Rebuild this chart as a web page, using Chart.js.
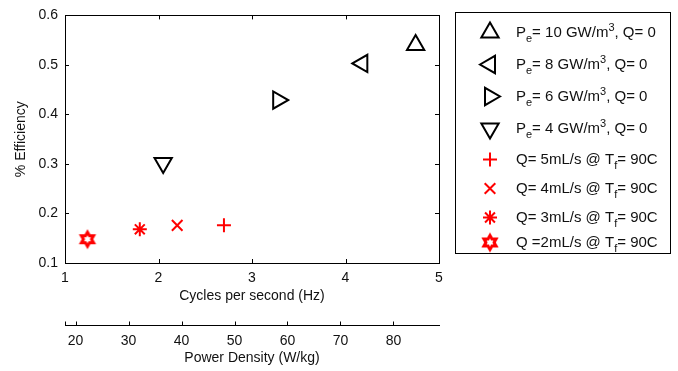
<!DOCTYPE html>
<html>
<head>
<meta charset="utf-8">
<script src="https://cdn.jsdelivr.net/npm/chart.js@4/dist/chart.umd.min.js"></script>
<style>
  html, body { margin: 0; padding: 0; background: #fff; }
  #wrap { width: 678px; height: 371px; }
</style>
</head>
<body>
<div id="wrap"><canvas id="chart" width="678" height="371"></canvas></div>
<script>
// series labels: _x = subscript char, ^x = superscript char
const seriesLabels = [
    'P_e= 10 GW/m^3, Q= 0',
    'P_e= 8 GW/m^3, Q= 0',
    'P_e= 6 GW/m^3, Q= 0',
    'P_e= 4 GW/m^3, Q= 0',
    'Q= 5mL/s @ T_f= 90C',
    'Q= 4mL/s @ T_f= 90C',
    'Q= 3mL/s @ T_f= 90C',
    'Q =2mL/s @ T_f= 90C'
];
// cycles per second (Hz)
const cycles = [4.75, 4.18, 3.28, 2.05, 2.70, 2.20, 1.80, 1.24];
// % efficiency
const efficiency = [0.540, 0.503, 0.429, 0.302, 0.176, 0.176, 0.168, 0.148];
// power density axis range (W/kg)
const powerMin = 18;
const powerMax = 88.6;

const FONT = "'Liberation Sans', Arial, Helvetica, sans-serif";
const TEXT = '#111';

// make a hollow six pointed star for the last series
function makeHexagram(R, color, lw) {
    const size = Math.ceil(2 * R + 2 * lw + 2);
    const c = document.createElement('canvas');
    c.width = size;
    c.height = size;
    const g = c.getContext('2d');
    g.beginPath();
    for (let i = 0; i < 12; i++) {
        const a = -Math.PI / 2 + i * Math.PI / 6;
        const r = i % 2 === 0 ? R : R / Math.sqrt(3);
        const px = size / 2 + r * Math.cos(a);
        const py = size / 2 + r * Math.sin(a);
        if (i === 0) g.moveTo(px, py); else g.lineTo(px, py);
    }
    g.closePath();
    g.strokeStyle = color;
    g.lineWidth = lw;
    g.stroke();
    return c;
}

const hexagram = makeHexagram(7, '#ff0000', 3);

const markers = [
    { style: 'triangle', rotation: 0,   radius: 10, color: '#000' },
    { style: 'triangle', rotation: 270, radius: 10, color: '#000' },
    { style: 'triangle', rotation: 90,  radius: 10, color: '#000' },
    { style: 'triangle', rotation: 180, radius: 10, color: '#000' },
    { style: 'cross',    rotation: 0,   radius: 7,  color: '#ff0000' },
    { style: 'crossRot', rotation: 0,   radius: 7.5, color: '#ff0000' },
    { style: 'star',     rotation: 0,   radius: 7,  color: '#ff0000' },
    { style: hexagram,   rotation: 0,   radius: 9,  color: '#ff0000' }
];

const datasets = seriesLabels.map((label, i) => ({
    label: label,
    data: [{ x: cycles[i], y: efficiency[i] }],
    pointStyle: markers[i].style,
    rotation: markers[i].rotation,
    pointRadius: markers[i].radius,
    borderColor: markers[i].color,
    backgroundColor: 'rgba(0,0,0,0)',
    borderWidth: 2,
    showLine: false
}));

// draws the box round the plot and the inward tick marks
const framePlugin = {
    id: 'frame',
    afterDraw(chart) {
        const ctx = chart.ctx;
        const a = chart.chartArea;
        const xs = chart.scales.x, ys = chart.scales.y, x2 = chart.scales.x2;
        const t = 4;
        ctx.save();
        ctx.strokeStyle = '#000';
        ctx.lineWidth = 1;
        ctx.strokeRect(Math.round(a.left) + 0.5, Math.round(a.top) + 0.5,
            Math.round(a.right - a.left), Math.round(a.bottom - a.top));
        ctx.beginPath();
        xs.ticks.forEach(tk => {
            const px = Math.round(xs.getPixelForValue(tk.value)) + 0.5;
            ctx.moveTo(px, a.bottom); ctx.lineTo(px, a.bottom - t);
            ctx.moveTo(px, a.top); ctx.lineTo(px, a.top + t);
        });
        ys.ticks.forEach(tk => {
            const py = Math.round(ys.getPixelForValue(tk.value)) + 0.5;
            ctx.moveTo(a.left, py); ctx.lineTo(a.left + t, py);
            ctx.moveTo(a.right, py); ctx.lineTo(a.right - t, py);
        });
        // second axis ticks point up from its line
        const top2 = Math.round(x2.top) + 0.5;
        x2.ticks.forEach(tk => {
            const px = Math.round(x2.getPixelForValue(tk.value)) + 0.5;
            ctx.moveTo(px, top2); ctx.lineTo(px, top2 - t);
        });
        ctx.moveTo(Math.round(x2.left) + 0.5, top2);
        ctx.lineTo(Math.round(x2.left) + 0.5, top2 - t);
        ctx.stroke();
        ctx.restore();
    }
};

function drawRich(ctx, str, x, y, size) {
    const parts = str.split(/([_^].)/);
    parts.forEach(p => {
        if (!p) return;
        if (p[0] === '_' || p[0] === '^') {
            ctx.font = Math.round(size * 0.7) + 'px ' + FONT;
            const dy = p[0] === '_' ? 5 : -6;
            ctx.fillText(p[1], x, y + dy);
            x += ctx.measureText(p[1]).width;
        } else {
            ctx.font = size + 'px ' + FONT;
            ctx.fillText(p, x, y);
            x += ctx.measureText(p).width;
        }
    });
}

// legend box on the right, drawn by hand for the sub/superscripts
const legendPlugin = {
    id: 'richLegend',
    afterDraw(chart) {
        const ctx = chart.ctx;
        const box = { left: 455.5, top: 12.5, width: 215, height: 241 };
        const baselines = [37, 69, 101, 133, 164, 193, 222, 247];
        ctx.save();
        ctx.strokeStyle = '#000';
        ctx.lineWidth = 1;
        ctx.strokeRect(box.left, box.top, box.width, box.height);
        chart.data.datasets.forEach((ds, i) => {
            const my = baselines[i] - 4.5;
            ctx.save();
            ctx.strokeStyle = ds.borderColor;
            ctx.fillStyle = 'rgba(0,0,0,0)';
            ctx.lineWidth = ds.borderWidth;
            Chart.helpers.drawPoint(ctx, {
                pointStyle: ds.pointStyle,
                rotation: ds.rotation,
                radius: ds.pointRadius,
                borderWidth: ds.borderWidth
            }, 490, my);
            ctx.restore();
            ctx.fillStyle = TEXT;
            ctx.textBaseline = 'alphabetic';
            ctx.textAlign = 'left';
            drawRich(ctx, ds.label, 516, baselines[i], 15);
        });
        ctx.restore();
    }
};

new Chart(document.getElementById('chart'), {
    type: 'scatter',
    data: { datasets: datasets },
    options: {
        responsive: false,
        animation: false,
        events: [],
        layout: { padding: { top: 14, right: 239, bottom: 0, left: 0 } },
        plugins: {
            legend: { display: false },
            tooltip: { enabled: false }
        },
        scales: {
            x: {
                type: 'linear',
                position: 'bottom',
                weight: 0,
                min: 1,
                max: 5,
                grid: { display: false, drawTicks: false },
                border: { display: true, color: '#000', width: 1 },
                ticks: { stepSize: 1, padding: 7, color: TEXT, font: { family: FONT, size: 14 } },
                title: {
                    display: true,
                    text: 'Cycles per second (Hz)',
                    color: TEXT,
                    font: { family: FONT, size: 14 },
                    padding: { top: 0, bottom: 20 }
                },
                afterFit(scale) { scale.height = 62; }
            },
            x2: {
                type: 'linear',
                position: 'bottom',
                weight: 1,
                min: powerMin,
                max: powerMax,
                grid: { display: false, drawTicks: false },
                border: { display: true, color: '#000', width: 1 },
                ticks: { stepSize: 10, includeBounds: false, padding: 8, color: TEXT, font: { family: FONT, size: 14 } },
                title: {
                    display: true,
                    text: 'Power Density (W/kg)',
                    color: TEXT,
                    font: { family: FONT, size: 14 },
                    padding: { top: 0, bottom: 4 }
                },
                afterFit(scale) { scale.height = 46; }
            },
            y: {
                type: 'linear',
                min: 0.1,
                max: 0.6,
                grid: { display: false, drawTicks: false },
                border: { display: true, color: '#000', width: 1 },
                ticks: {
                    stepSize: 0.1,
                    padding: 7,
                    color: TEXT,
                    font: { family: FONT, size: 14 },
                    callback: v => v.toFixed(1)
                },
                title: {
                    display: true,
                    text: '% Efficiency',
                    color: TEXT,
                    font: { family: FONT, size: 14 },
                    padding: { top: 13, bottom: 0 }
                },
                afterFit(scale) { scale.width = 65; }
            }
        }
    },
    plugins: [framePlugin, legendPlugin]
});
</script>
</body>
</html>
